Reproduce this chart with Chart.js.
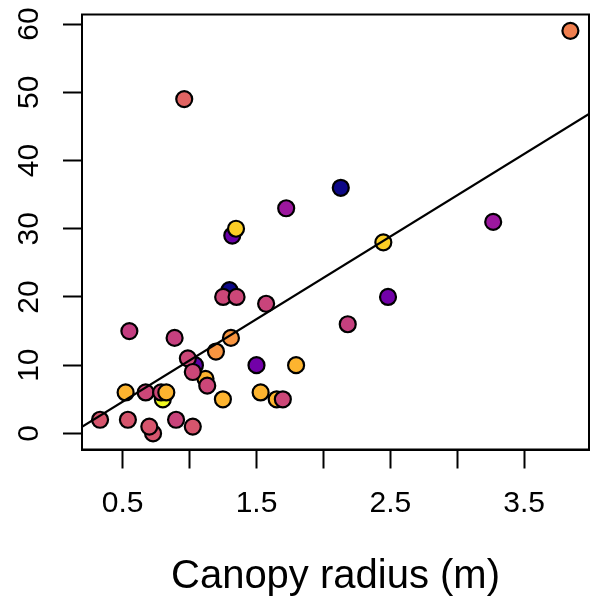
<!DOCTYPE html>
<html><head><meta charset="utf-8">
<script src="https://cdn.jsdelivr.net/npm/chart.js@4.4.0/dist/chart.umd.min.js"></script>
<style>html,body{margin:0;padding:0;background:#fff;overflow:hidden;} #wrap{width:592px;height:598px;}</style>
</head><body><div id="wrap"><canvas id="c" width="592" height="598"></canvas></div>
<script>
// ---- data ----
const canopyRadius = [0.80,1.04,1.298,1.319,1.119,1.651,0.727,0.699,0.331,0.539,0.899,1.024,0.522,0.672,0.787,0.826,0.550,0.888,0.987,1.024,1.132,1.249,1.197,1.309,1.500,1.796,1.531,1.697,1.722,1.347,1.251,1.351,1.572,2.130,2.448,3.269,2.483,2.182,3.846,0.960];
const heightValues = [5,10,21,29,8,5,0,1,2,2,2,1,6,6,6,6,15,14,11,9,7,5,12,14,10,10,6,5,33,30,20,20,19,36,28,31,20,16,59,49];
const pointColors = ['#f0f921','#5c01a6','#0d0887','#6a00a8','#fdb42f','#fdb42f','#d6556d','#d6556d','#d6556d','#d6556d','#c9437b','#d6556d','#fdb42f','#cc4778','#cc4778','#fdb42f','#c33d80','#c6407f','#cc4778','#cc4778','#cc4778','#fdb42f','#f89540','#f89540','#7201a8','#fdb42f','#fdb42f','#cc4778','#9c179e','#fcce25','#cc4778','#cc4778','#c9447b','#0d0887','#fcce25','#9c179e','#7201a8','#c5407e','#f07f4f','#e16462'];
const xTickValues = [0.5,1,1.5,2,2.5,3,3.5];
const xTickLabels = ['0.5','','1.5','','2.5','','3.5'];
const yTickValues = [0,10,20,30,40,50,60];
const yTickLabels = ['0','10','20','30','40','50','60'];
const xLimits = [0.196, 3.985];
const yLimits = [-2.36, 61.4];
const fitIntercept = -1.40;
const fitSlope = 12.1;
const xTitle = 'Canopy radius (m)';

const FONT = '"Liberation Sans", Arial, Helvetica, sans-serif';
const scatterData = canopyRadius.map((x,i)=>({x:x, y:heightValues[i]}));
const lineData = xLimits.map(x=>({x:x, y:fitIntercept + fitSlope*x}));

const boxPlugin = {
  id:'box',
  beforeDatasetsDraw(chart){
    const a = chart.chartArea, ctx = chart.ctx;
    ctx.save(); ctx.strokeStyle='#000'; ctx.lineWidth=2;
    ctx.strokeRect(a.left, a.top, a.right-a.left, a.bottom-a.top);
    ctx.restore();
  }
};

new Chart(document.getElementById('c'), {
  type:'scatter',
  data:{datasets:[
    {type:'line', data:lineData, borderColor:'#000', borderWidth:2.2, pointRadius:0, fill:false, tension:0},
    {type:'scatter', data:scatterData, backgroundColor:pointColors, borderColor:'#000', borderWidth:2.2, pointRadius:8, pointHoverRadius:8}
  ]},
  options:{
    responsive:false, animation:false, devicePixelRatio:1,
    layout:{autoPadding:false, padding:{left:0, top:14.5, right:3, bottom:0}},
    plugins:{legend:{display:false}, tooltip:{enabled:false}},
    scales:{
      x:{type:'linear', position:'bottom', min:xLimits[0], max:xLimits[1],
        afterBuildTicks:s=>{s.ticks = xTickValues.map(v=>({value:v}));},
        afterFit:s=>{s.height = 148.5; s.paddingLeft = 0; s.paddingRight = 0;},
        ticks:{autoSkip:false, maxRotation:0, minRotation:0, padding:17.5, color:'#000',
          font:{family:FONT, size:30},
          callback:(v)=>{const i = xTickValues.indexOf(v); return i>=0 ? xTickLabels[i] : '';}},
        grid:{drawOnChartArea:false, drawTicks:true, tickLength:19, tickColor:'#000', tickWidth:2},
        border:{display:true, color:'#000', width:2},
        title:{display:true, text:xTitle, color:'#000', font:{family:FONT, size:40}, padding:{top:0,bottom:-3}}
      },
      y:{type:'linear', position:'left', min:yLimits[0], max:yLimits[1],
        afterBuildTicks:s=>{s.ticks = yTickValues.map(v=>({value:v}));},
        afterFit:s=>{s.width = 82; s.paddingTop = 0; s.paddingBottom = 0;},
        ticks:{autoSkip:false, minRotation:90, maxRotation:90, crossAlign:'center', padding:17, color:'#000',
          font:{family:FONT, size:30},
          callback:(v)=>{const i = yTickValues.indexOf(v); return i>=0 ? yTickLabels[i] : '';}},
        grid:{drawOnChartArea:false, drawTicks:true, tickLength:19, tickColor:'#000', tickWidth:2},
        border:{display:true, color:'#000', width:2}
      }
    }
  },
  plugins:[boxPlugin]
});
</script></body></html>
